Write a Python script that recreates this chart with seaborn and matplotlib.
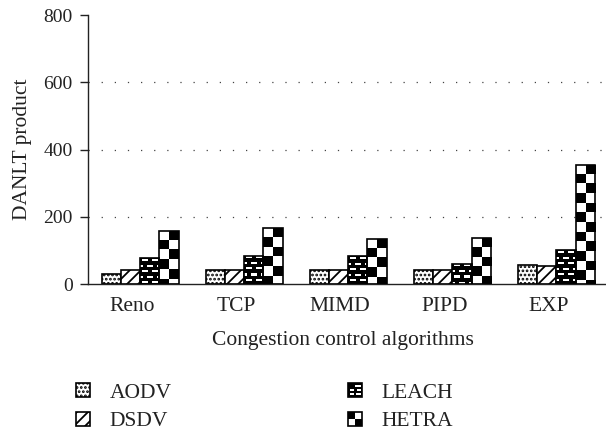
import numpy as np
import pandas as pd
import matplotlib
matplotlib.use("Agg")
import matplotlib.pyplot as plt
import seaborn as sns
from matplotlib.patches import Rectangle, Patch
from matplotlib.legend_handler import HandlerBase
from matplotlib.transforms import ScaledTranslation

# ---- data -------------------------------------------------------------
algorithms = ["Reno", "TCP", "MIMD", "PIPD", "EXP"]
protocols = ["AODV", "DSDV", "LEACH", "HETRA"]
aodv = [29, 42, 43, 41, 56]
dsdv = [41, 42, 43, 43, 55]
leach = [76, 84, 83, 60, 101]
hetra = [159, 167, 135, 137, 355]
y_ticks = [0, 200, 400, 600, 800]

values = {"AODV": aodv, "DSDV": dsdv, "LEACH": leach, "HETRA": hetra}
df = pd.DataFrame(
    [(alg, p, values[p][i]) for p in protocols for i, alg in enumerate(algorithms)],
    columns=["Algorithm", "Protocol", "DANLT"],
)

# ---- style ------------------------------------------------------------
sns.set_theme(style="white")
plt.rcParams["font.family"] = ["Liberation Serif", "DejaVu Serif"]
plt.rcParams["hatch.linewidth"] = 1.3
FS = 15.5
FS_Y = 14
INK = "#222222"

fig = plt.figure(figsize=(6.06, 4.30), dpi=100)
ax = fig.add_axes([0.1452, 0.3395, 1.004 - 0.1452, 0.9651 - 0.3395])

sns.barplot(
    data=df, x="Algorithm", y="DANLT", hue="Protocol",
    order=algorithms, hue_order=protocols,
    palette={p: "white" for p in protocols},
    width=0.74, edgecolor="black", linewidth=1.2,
    errorbar=None, legend=False, ax=ax,
)

ax.set_xlim(-0.5, 4.5)
ax.set_ylim(y_ticks[0], y_ticks[-1])
ax.set_yticks(y_ticks)

# dotted reference lines at the inner ticks
for v in y_ticks[1:-1]:
    ax.axhline(v, color="#444444", linewidth=0.9, linestyle=(0, (1, 9.5)), zorder=0.5)


def pixel_size(bar):
    x0, y0 = bar.get_x(), bar.get_y()
    (a, b), (c, d) = ax.transData.transform([(x0, y0), (x0 + bar.get_width(), y0 + bar.get_height())])
    return c - a, d - b


def brick_pattern(nr, nc):
    arr = np.zeros((nr, nc))
    for r in range(nr):
        ph = r % 11
        for c in range(nc):
            cc = c % 10
            if ph in (1, 2) and 2 <= cc <= 7:
                arr[r, c] = 1
            if ph in (7, 8) and (cc >= 7 or cc <= 2):
                arr[r, c] = 1
    return arr


def checker_pattern(nr, nc):
    rr, cc = np.indices((nr, nc))
    return ((rr + cc + 1) % 2).astype(float)


def overlay(bar, arr, extent):
    im = ax.imshow(arr, cmap="gray", vmin=0, vmax=1, extent=extent, aspect="auto",
                   interpolation="nearest", origin="upper", zorder=2)
    im.set_clip_path(bar)
    bar.set_facecolor("none")
    bar.set_zorder(3)


for cont, proto in zip(ax.containers, protocols):
    for bar in cont:
        x0, y0, w, h = bar.get_x(), bar.get_y(), bar.get_width(), bar.get_height()
        if proto == "AODV":
            bar.set_hatch("....")
        elif proto == "DSDV":
            bar.set_hatch("///")
        elif proto == "LEACH":
            wp, hp = pixel_size(bar)
            nr, nc = int(np.ceil(hp)), int(np.ceil(wp))
            overlay(bar, brick_pattern(nr, nc), (x0, x0 + w, y0 + h - nr * h / hp, y0 + h))
        elif proto == "HETRA":
            wp, hp = pixel_size(bar)
            cell = wp / 2
            nr = int(np.ceil(hp / cell))
            overlay(bar, checker_pattern(nr, 2), (x0, x0 + w, y0 + h - nr * cell * h / hp, y0 + h))

ax.set_xlim(-0.5, 4.5)
ax.set_ylim(y_ticks[0], y_ticks[-1])

# ---- axes decoration --------------------------------------------------
for side in ("top", "right"):
    ax.spines[side].set_visible(False)
for side in ("left", "bottom"):
    ax.spines[side].set_color(INK)
    ax.spines[side].set_linewidth(1.0)

ax.tick_params(axis="y", direction="out", length=6, width=1.0, color=INK, pad=5,
               labelsize=FS_Y, labelcolor=INK, left=True)
ax.tick_params(axis="x", length=0, pad=9, labelsize=FS, labelcolor=INK)
shift = ScaledTranslation(-8 / 100, 0, fig.dpi_scale_trans)
for lab in ax.get_xticklabels():
    lab.set_transform(lab.get_transform() + shift)

ax.set_xlabel("Congestion control algorithms", fontsize=FS, color=INK, labelpad=11)
ax.set_ylabel("DANLT product", fontsize=FS, color=INK, labelpad=8)
ax.xaxis.label.set_x(0.49)


# ---- legend -----------------------------------------------------------
class CheckerHandler(HandlerBase):
    def create_artists(self, legend, orig_handle, xdescent, ydescent, width, height, fontsize, trans):
        x0, y0 = -xdescent, -ydescent
        arts = [Rectangle((x0, y0), width, height, facecolor="white", edgecolor="none", transform=trans),
                Rectangle((x0, y0 + height / 2), width / 2, height / 2, facecolor="black", edgecolor="none", transform=trans),
                Rectangle((x0 + width / 2, y0), width / 2, height / 2, facecolor="black", edgecolor="none", transform=trans),
                Rectangle((x0, y0), width, height, facecolor="none", edgecolor="black", lw=1.2, transform=trans)]
        return arts


class BrickHandler(HandlerBase):
    def create_artists(self, legend, orig_handle, xdescent, ydescent, width, height, fontsize, trans):
        x0, y0 = -xdescent, -ydescent
        arts = [Rectangle((x0, y0), width, height, facecolor="black", edgecolor="black", lw=1.2, transform=trans)]
        dh = height * 0.14
        rows = [(0.72, [(0.5, 0.9)]), (0.45, [(0.1, 0.45), (0.6, 0.9)]), (0.15, [(0.1, 0.4), (0.55, 0.9)])]
        for fy, segs in rows:
            for a, b in segs:
                arts.append(Rectangle((x0 + a * width, y0 + fy * height), (b - a) * width, dh,
                                      facecolor="white", edgecolor="none", transform=trans))
        return arts


h_aodv = Patch(facecolor="white", edgecolor="black", hatch="....", lw=1.2)
h_dsdv = Patch(facecolor="white", edgecolor="black", hatch="///", lw=1.2)
h_leach = Patch(facecolor="black")
h_hetra = Patch(facecolor="white")

fig.legend(
    [h_aodv, h_dsdv, h_leach, h_hetra], protocols,
    handler_map={h_leach: BrickHandler(), h_hetra: CheckerHandler()},
    loc="upper left", bbox_to_anchor=(0.1254, 0.11), ncol=2,
    frameon=False, fontsize=FS, labelcolor=INK,
    handlelength=0.66, handleheight=0.66, handletextpad=0.9,
    columnspacing=8.2, labelspacing=0.42, borderpad=0, borderaxespad=0,
)

fig.savefig("out.png", dpi=100)
